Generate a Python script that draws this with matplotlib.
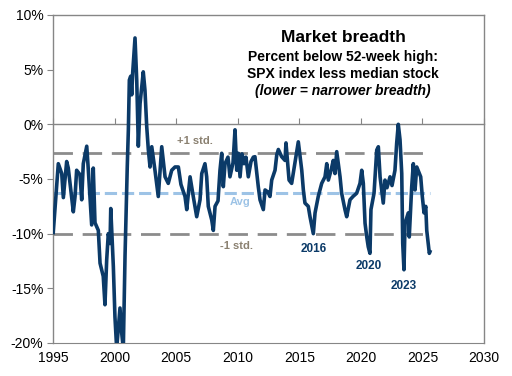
import matplotlib
matplotlib.use("Agg")
import matplotlib.pyplot as plt
from matplotlib.ticker import FuncFormatter

plt.rcParams['font.family'] = ['Liberation Sans', 'DejaVu Sans']

# spread (% below 52-week high, SPX less median stock)
years = [1995.02, 1995.43, 1995.71, 1995.84, 1996.11, 1996.24, 1996.65, 1996.79, 1996.92,
         1997.19, 1997.33, 1997.46, 1997.74, 1997.87, 1998.14, 1998.27, 1998.41, 1998.68,
         1998.82, 1999.08, 1999.22, 1999.36, 1999.49, 1999.63, 1999.69, 1999.90, 2000.03,
         2000.17, 2000.44, 2000.58, 2000.71, 2000.85, 2000.93, 2001.03, 2001.12, 2001.20,
         2001.31, 2001.39, 2001.47, 2001.66, 2001.80, 2001.93, 2002.07, 2002.33, 2002.47,
         2002.61, 2002.74, 2002.88, 2003.02, 2003.28, 2003.55, 2003.83, 2004.10, 2004.36,
         2004.64, 2004.91, 2005.18, 2005.39, 2005.72, 2005.86, 2006.13, 2006.39, 2006.67,
         2006.94, 2007.08, 2007.34, 2007.48, 2007.61, 2007.89, 2008.02, 2008.16, 2008.40,
         2008.56, 2008.70, 2008.83, 2008.97, 2009.21, 2009.37, 2009.62, 2009.78, 2009.92,
         2010.05, 2010.19, 2010.35, 2010.51, 2010.67, 2010.86, 2011.08, 2011.27, 2011.40,
         2011.67, 2011.81, 2012.08, 2012.22, 2012.46, 2012.62, 2012.76, 2013.03, 2013.17,
         2013.30, 2013.57, 2013.84, 2013.92, 2014.17, 2014.38, 2014.65, 2014.92, 2015.20,
         2015.33, 2015.46, 2015.73, 2015.87, 2016.14, 2016.28, 2016.54, 2016.82, 2017.09,
         2017.23, 2017.36, 2017.58, 2017.76, 2017.90, 2018.04, 2018.31, 2018.44, 2018.71,
         2018.85, 2019.12, 2019.36, 2019.66, 2019.93, 2020.07, 2020.20, 2020.34, 2020.48,
         2020.60, 2020.74, 2020.82, 2021.07, 2021.29, 2021.42, 2021.56, 2021.82, 2021.96,
         2022.12, 2022.37, 2022.53, 2022.77, 2022.91, 2023.04, 2023.18, 2023.32, 2023.40,
         2023.50, 2023.59, 2023.85, 2023.93, 2024.13, 2024.26, 2024.40, 2024.54, 2024.86,
         2024.99, 2025.13, 2025.27, 2025.35, 2025.56, 2025.61]
spread = [-9.9, -3.6, -4.5, -6.7, -3.4, -4.0, -8.0, -6.6, -4.2,
          -4.6, -6.9, -3.6, -2.0, -4.2, -9.2, -4.0, -9.0, -9.7,
          -12.7, -13.9, -16.5, -12.4, -10.0, -10.9, -7.7, -13.0, -17.6,
          -20.5, -16.8, -19.1, -20.5, -12.0, -8.4, -3.9, -0.5, 4.05,
          4.4, 2.7, 4.7, 7.9, 4.0, -2.0, 1.9, 4.8, 3.1,
          -0.2, -2.3, -3.9, -2.05, -4.2, -6.6, -2.05, -4.8, -5.4,
          -4.2, -3.9, -3.9, -5.5, -6.6, -7.8, -4.8, -6.6, -8.45,
          -6.9, -4.5, -3.6, -4.8, -7.5, -8.75, -9.7, -7.5, -7.0,
          -4.2, -2.65, -5.7, -3.6, -3.0, -4.8, -3.5, -0.5, -4.2,
          -2.65, -4.8, -2.7, -3.6, -3.0, -4.8, -3.4, -3.0, -2.96,
          -5.7, -6.9, -7.8, -6.0, -6.2, -6.6, -5.1, -4.2, -2.8,
          -2.3, -2.96, -3.3, -1.7, -5.1, -5.4, -3.5, -1.6, -4.2,
          -6.0, -7.2, -7.5, -8.45, -10.0, -8.1, -6.6, -5.4, -4.8,
          -3.6, -5.1, -4.2, -3.3, -4.5, -2.5, -4.8, -6.3, -7.8,
          -8.45, -6.9, -6.6, -6.3, -5.4, -4.2, -5.4, -9.05, -10.3,
          -11.2, -11.8, -7.8, -6.3, -2.35, -2.05, -4.8, -7.2, -5.1,
          -5.8, -4.8, -5.6, -4.2, -1.7, 0.0, -1.4, -4.5, -10.9,
          -13.3, -9.05, -8.1, -10.3, -5.7, -3.6, -6.0, -3.9, -4.8,
          -6.6, -8.1, -7.5, -9.7, -11.8, -11.65]

avg = -6.3
plus_std = -2.6
minus_std = -10.05
line_start = 1995.0
line_end = 2025.6

x_ticks = [1995, 2000, 2005, 2010, 2015, 2020, 2025, 2030]
y_ticks = [10, 5, 0, -5, -10, -15, -20]

navy = '#0b3a68'
grey = '#8c8c8c'
lightblue = '#9dc3e6'
frame = '#868686'

fig = plt.figure(figsize=(5.12, 3.76), dpi=100)
ax = fig.add_axes([53/512, 33/376, 431/512, 328/376])

ax.plot([line_start, line_end], [plus_std, plus_std], color=grey, lw=2.0, dashes=(7, 3.5))
ax.plot([line_start, line_end], [minus_std, minus_std], color=grey, lw=2.0, dashes=(7, 3.5))
ax.plot([line_start, line_end], [avg, avg], color=lightblue, lw=2.2, dashes=(4, 1.6))
ax.plot(years, spread, color=navy, lw=2.6, solid_joinstyle='round', zorder=5)

ax.set_xlim(1995, 2030)
ax.set_ylim(-20, 10)
ax.set_yticks(y_ticks)
ax.yaxis.set_major_formatter(FuncFormatter(lambda v, p: '%d%%' % v))
ax.tick_params(axis='y', direction='out', length=4, color=frame, labelsize=10, pad=3)

# x axis crosses at 0, labels stay at the bottom
ax.spines['bottom'].set_position(('data', 0))
ax.set_xticks(x_ticks)
ax.tick_params(axis='x', direction='in', length=4, color=frame, labelbottom=False)
sec = ax.secondary_xaxis('bottom')
sec.set_xticks(x_ticks)
sec.tick_params(length=0, labelsize=10, pad=6)
sec.spines['bottom'].set_color(frame)
for s in ax.spines.values():
    s.set_color(frame)
    s.set_linewidth(1.0)

ax.text(0.673, 0.930, 'Market breadth', transform=ax.transAxes, ha='center', va='center',
        fontsize=12.5, fontweight='bold')
ax.text(0.673, 0.872, 'Percent below 52-week high:', transform=ax.transAxes, ha='center',
        va='center', fontsize=10, fontweight='bold')
ax.text(0.673, 0.820, 'SPX index less median stock', transform=ax.transAxes, ha='center',
        va='center', fontsize=10, fontweight='bold')
ax.text(0.673, 0.768, '(lower = narrower breadth)', transform=ax.transAxes, ha='center',
        va='center', fontsize=10, fontweight='bold', style='italic')

ax.text(0.329, 0.616, '+1 std.', transform=ax.transAxes, ha='center', va='center',
        fontsize=8, fontweight='bold', color='#8a8070')
ax.text(0.434, 0.430, 'Avg', transform=ax.transAxes, ha='center', va='center',
        fontsize=8, fontweight='bold', color=lightblue)
ax.text(0.4246, 0.296, '-1 std.', transform=ax.transAxes, ha='center', va='center',
        fontsize=8, fontweight='bold', color='#8a8070')
ax.text(0.6056, 0.2866, '2016', transform=ax.transAxes, ha='center', va='center',
        fontsize=8.5, fontweight='bold', color=navy)
ax.text(0.733, 0.235, '2020', transform=ax.transAxes, ha='center', va='center',
        fontsize=8.5, fontweight='bold', color=navy)
ax.text(0.814, 0.174, '2023', transform=ax.transAxes, ha='center', va='center',
        fontsize=8.5, fontweight='bold', color=navy)

fig.savefig('out.png', dpi=100)
